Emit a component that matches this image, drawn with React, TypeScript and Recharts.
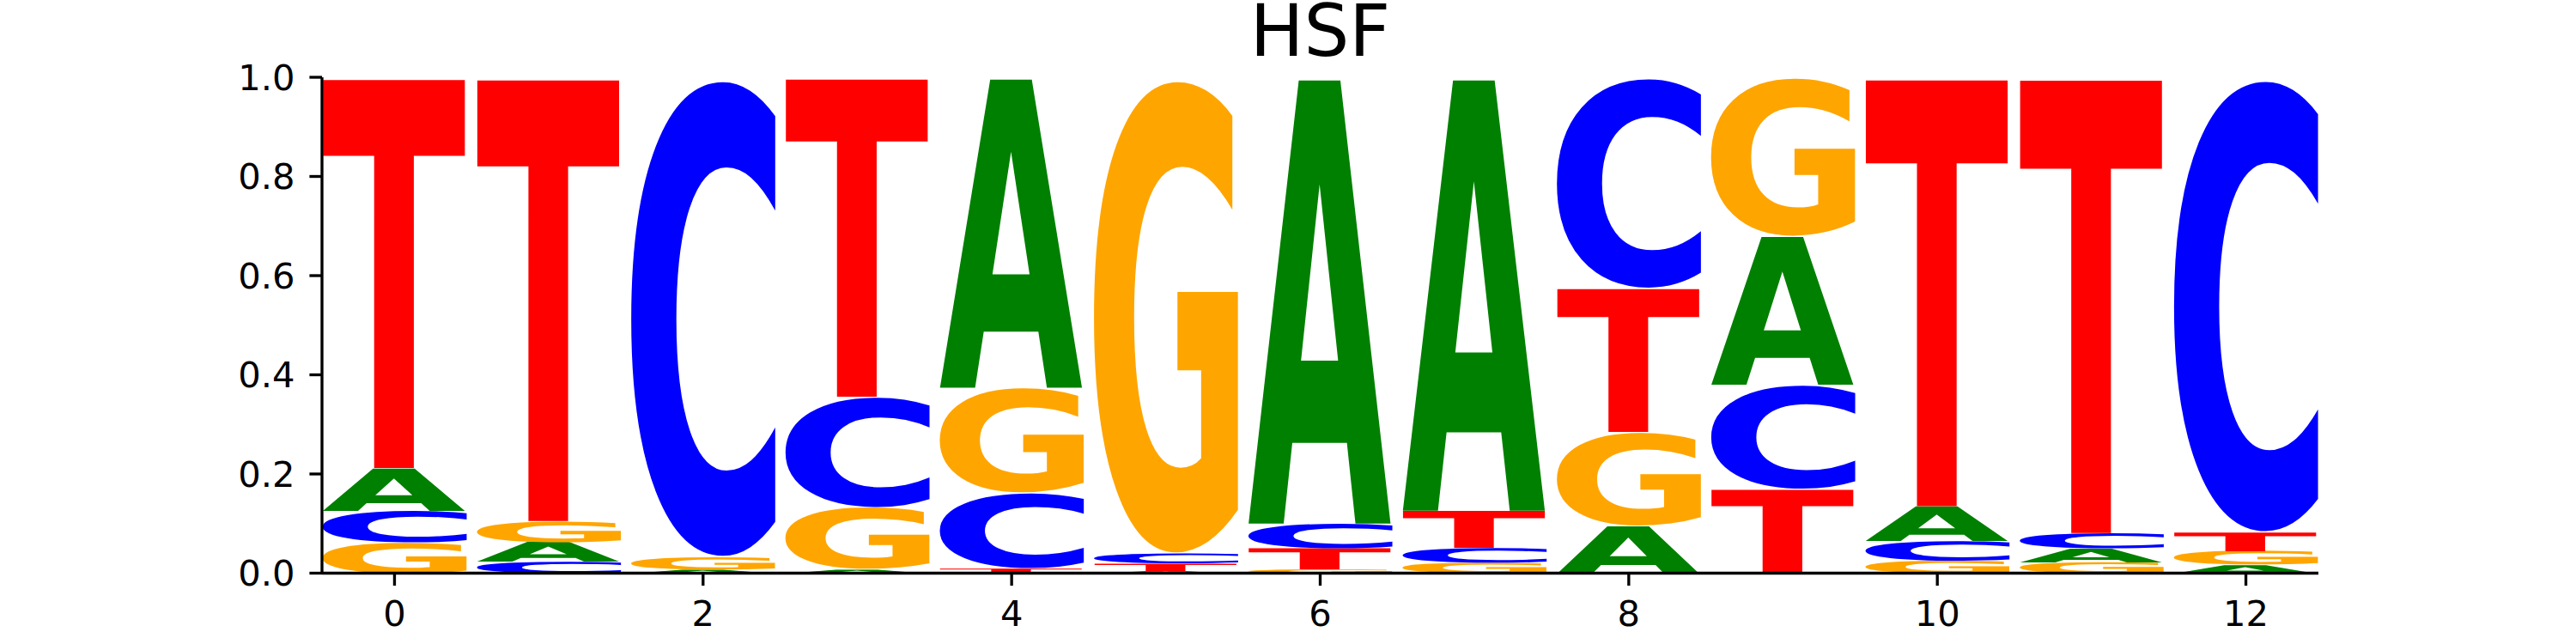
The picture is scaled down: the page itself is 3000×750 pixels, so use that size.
import React from 'react';
import { BarChart, Bar, XAxis, YAxis } from 'recharts';

// ---- data (probabilities per position) ----
const positions = [0, 1, 2, 3, 4, 5, 6, 7, 8, 9, 10, 11, 12];
const probA = [0.086, 0.040, 0.008, 0.008, 0.626, 0.005, 0.900, 0.874, 0.096, 0.300, 0.070, 0.028, 0.017];
const probC = [0.064, 0.023, 0.967, 0.223, 0.152, 0.020, 0.050, 0.030, 0.425, 0.210, 0.040, 0.031, 0.917];
const probG = [0.062, 0.042, 0.025, 0.125, 0.212, 0.960, 0.007, 0.021, 0.189, 0.320, 0.025, 0.022, 0.028];
const probT = [0.788, 0.895, 0.000, 0.644, 0.010, 0.015, 0.043, 0.075, 0.290, 0.170, 0.865, 0.919, 0.038];
const xTicks = [0, 2, 4, 6, 8, 10, 12];
const yTicks = [0, 0.2, 0.4, 0.6, 0.8, 1.0];
const title = 'HSF';

const COLORS: Record<string, string> = { A: '#008000', C: '#0000ff', G: '#ffa500', T: '#ff0000' };
const FONT = "'DejaVu Sans', 'Liberation Sans', sans-serif";
const REF = 100;
const MEASURE = 1000;

// stacked table: rank 0 = smallest (bottom)
const table = positions.map((p, i) => {
  const vals = [
    { l: 'A', v: probA[i] },
    { l: 'C', v: probC[i] },
    { l: 'G', v: probG[i] },
    { l: 'T', v: probT[i] },
  ].sort((a, b) => a.v - b.v);
  const row: any = { pos: p };
  vals.forEach((e, k) => {
    row['r' + k] = e.v;
    row['l' + k] = e.l;
  });
  return row;
});

const FALLBACK: Record<string, { l: number; r: number; a: number; d: number }> = {
  A: { l: 0, r: 77, a: 72.9, d: 0 },
  C: { l: -5, r: 68, a: 74.2, d: 1.4 },
  G: { l: -5, r: 76, a: 74.2, d: 1.4 },
  T: { l: -1, r: 67, a: 72.9, d: 0 },
};
const inkCache: Record<string, { l: number; r: number; a: number; d: number }> = {};
function ink(ch: string) {
  if (inkCache[ch]) return inkCache[ch];
  let m = FALLBACK[ch];
  try {
    const c = document.createElement('canvas');
    const ctx = c.getContext('2d');
    if (ctx) {
      ctx.font = `bold ${MEASURE}px ${FONT}`;
      const t = ctx.measureText(ch);
      if (typeof t.actualBoundingBoxRight === 'number' && t.actualBoundingBoxAscent > 0) {
        const k = REF / MEASURE;
        m = {
          l: t.actualBoundingBoxLeft * k,
          r: t.actualBoundingBoxRight * k,
          a: t.actualBoundingBoxAscent * k,
          d: t.actualBoundingBoxDescent * k,
        };
      }
    }
  } catch (e) {
    // keep fallback
  }
  inkCache[ch] = m;
  return m;
}

function Glyph(props: any) {
  const { x, y, width, height, letter } = props;
  if (!letter || !(height > 0.01) || !(width > 0)) return null;
  const m = ink(letter);
  const sx = width / (m.l + m.r);
  const sy = height / (m.a + m.d);
  const tx = x + m.l * sx;
  const ty = y + m.a * sy;
  return (
    <text
      transform={`translate(${tx},${ty}) scale(${sx},${sy})`}
      x={0}
      y={0}
      fontSize={REF}
      fontWeight="bold"
      fontFamily={FONT}
      fill={COLORS[letter]}
      textRendering="geometricPrecision"
    >
      {letter}
    </text>
  );
}

const axisStyle = { stroke: '#000', strokeWidth: 3.33 };
const tickStyle = { fill: '#000', fontSize: 41.67, fontFamily: FONT };

export default function App() {
  return (
    <div style={{ position: 'absolute', left: 0, top: 0, width: 3000, height: 750, background: '#fff' }}>
      <BarChart
        width={3000}
        height={750}
        data={table}
        margin={{ top: 90, right: 300, left: 255, bottom: 22.5 }}
        barCategoryGap="3%"
        barGap={0}
      >
        <XAxis
          dataKey="pos"
          type="number"
          domain={[-0.47, 12.47]}
          ticks={xTicks}
          interval={0}
          allowDataOverflow
          height={60}
          axisLine={axisStyle}
          tickLine={axisStyle}
          tickSize={14.6}
          tickMargin={17}
          tick={tickStyle}
        />
        <YAxis
          type="number"
          domain={[0, 1]}
          ticks={yTicks}
          interval={0}
          allowDataOverflow
          width={120}
          axisLine={axisStyle}
          tickLine={axisStyle}
          tickSize={14.6}
          tickMargin={17}
          tick={tickStyle}
          tickFormatter={(v: number) => v.toFixed(1)}
        />
        {[0, 1, 2, 3].map((k) => (
          <Bar
            key={k}
            dataKey={'r' + k}
            stackId="logo"
            isAnimationActive={false}
            shape={(p: any) => {
              const row = p.payload ?? table[p.index];
              return <Glyph {...p} letter={row ? row['l' + k] : undefined} />;
            }}
          />
        ))}
      </BarChart>
      <svg
        width={3000}
        height={100}
        style={{ position: 'absolute', left: 0, top: 0, pointerEvents: 'none' }}
      >
        <text x={1537.5} y={65} textAnchor="middle" fontSize={83.3} fontFamily={FONT} fill="#000">
          {title}
        </text>
      </svg>
    </div>
  );
}
